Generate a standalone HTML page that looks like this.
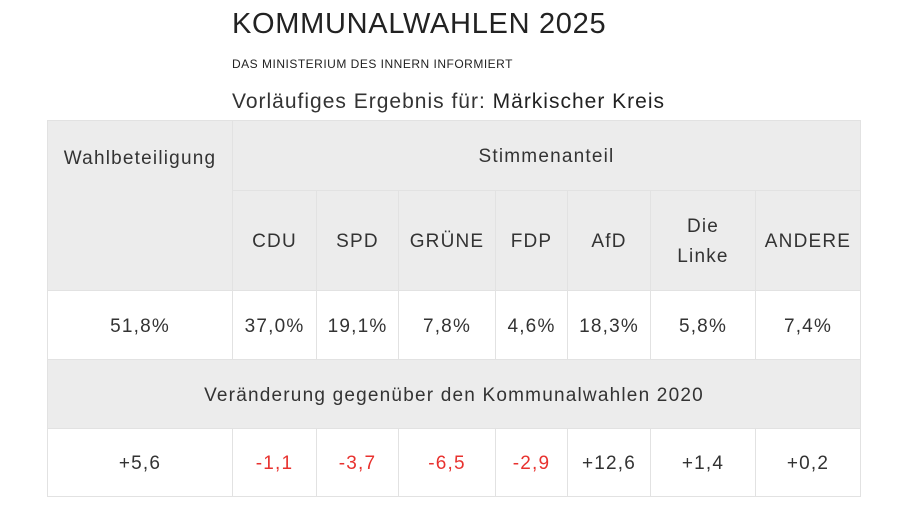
<!DOCTYPE html>
<html><head><meta charset="utf-8"><style>
body{margin:0;width:900px;height:510px;background:#fff;font-family:"Liberation Sans",sans-serif;color:#333;position:relative;overflow:hidden}
.t{position:absolute;left:232px;white-space:nowrap}
table{position:absolute;left:47px;top:120px;border-collapse:collapse;table-layout:fixed;font-size:19px;letter-spacing:1.2px}
td{border:1px solid #e2e2e2;text-align:center;padding:3px 0 0 0;color:#333}
.h{background:#ececec}
.r{color:#e8322f}
</style></head><body>
<div class="t" style="top:8px;font-size:29px;letter-spacing:0.7px;color:#222">KOMMUNALWAHLEN 2025</div>
<div class="t" style="top:57px;font-size:12px;letter-spacing:0.5px;color:#222">DAS MINISTERIUM DES INNERN INFORMIERT</div>
<div class="t" style="top:90px;font-size:21px;letter-spacing:1px;color:#333">Vorläufiges Ergebnis für: <span style="color:#222">Märkischer Kreis</span></div>
<table>
<colgroup><col style="width:185px"><col style="width:84px"><col style="width:82px"><col style="width:97px"><col style="width:72px"><col style="width:83px"><col style="width:105px"><col style="width:105px"></colgroup>
<tr style="height:70px"><td class="h" rowspan="2" style="vertical-align:top;padding-top:27px">Wahlbeteiligung</td><td class="h" colspan="7">Stimmenanteil</td></tr>
<tr style="height:100px"><td class="h">CDU</td><td class="h">SPD</td><td class="h">GRÜNE</td><td class="h">FDP</td><td class="h">AfD</td><td class="h" style="line-height:30px">Die<br>Linke</td><td class="h">ANDERE</td></tr>
<tr style="height:69px"><td>51,8%</td><td>37,0%</td><td>19,1%</td><td>7,8%</td><td>4,6%</td><td>18,3%</td><td>5,8%</td><td>7,4%</td></tr>
<tr style="height:69px"><td class="h" colspan="8">Veränderung gegenüber den Kommunalwahlen 2020</td></tr>
<tr style="height:68px"><td>+5,6</td><td class="r">-1,1</td><td class="r">-3,7</td><td class="r">-6,5</td><td class="r">-2,9</td><td>+12,6</td><td>+1,4</td><td>+0,2</td></tr>
</table>
</body></html>
